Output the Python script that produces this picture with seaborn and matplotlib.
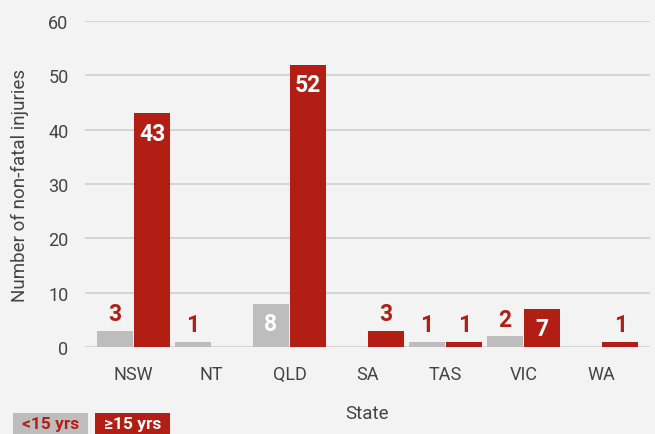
import matplotlib.pyplot as plt
import pandas as pd
import seaborn as sns
from matplotlib.patches import Rectangle

states = ["NSW", "NT", "QLD", "SA", "TAS", "VIC", "WA"]
under_15 = [3, 1, 8, 0, 1, 2, 0]
over_15 = [43, 0, 52, 3, 1, 7, 1]
groups = ["<15 yrs", "≥15 yrs"]

RED = "#B21E14"
GREY = "#BDBDBD"
BG = "#F3F3F3"
TXT = "#444444"

df = pd.DataFrame(
    {
        "State": states * 2,
        "Group": [groups[0]] * len(states) + [groups[1]] * len(states),
        "Value": under_15 + over_15,
    }
)

sns.set_theme(style="whitegrid")
plt.rcParams["font.family"] = ["Roboto", "DejaVu Sans"]

fig = plt.figure(figsize=(6.55, 4.35), dpi=100, facecolor=BG)
ax = fig.add_axes([0.13, 0.2, 0.862, 0.749], facecolor=BG)

sns.barplot(
    data=df,
    x="State",
    y="Value",
    hue="Group",
    hue_order=groups,
    palette=[GREY, RED],
    width=0.96,
    gap=0.04,
    saturation=1,
    linewidth=0,
    legend=False,
    ax=ax,
)

# value labels: white inside tall bars, red above short ones
for container, vals in zip(ax.containers, [under_15, over_15]):
    for bar, v in zip(container, vals):
        if v == 0:
            continue
        cx = bar.get_x() + bar.get_width() / 2
        if v >= 7:
            ax.annotate(str(v), (cx, v), xytext=(0, -6), textcoords="offset points",
                        ha="center", va="top", color="white", fontsize=16.5, fontweight="bold")
        else:
            ax.annotate(str(v), (cx, v), xytext=(0, 4), textcoords="offset points",
                        ha="center", va="bottom", color=RED, fontsize=16.5, fontweight="bold")

ax.set_ylim(0, 60)
ax.set_xlim(-0.62, 6.62)
ax.set_yticks(range(0, 61, 10))
ax.grid(axis="y", color="#CFCFCF", linewidth=1.2)
ax.grid(axis="x", visible=False)
for s in ax.spines.values():
    s.set_visible(False)
ax.tick_params(axis="y", length=0, pad=12, labelsize=13, labelcolor=TXT)
ax.tick_params(axis="x", length=0, pad=13, labelsize=13, labelcolor=TXT)
ax.set_xlabel("State", fontsize=13.5, color=TXT, labelpad=15)
ax.set_ylabel("Number of non-fatal injuries", fontsize=13.5, color=TXT, labelpad=14)

# legend boxes at bottom left (figure pixel coords)
W, H = 655, 435
for (x0, x1), label, fc, tc in [((13, 88), groups[0], GREY, RED), ((95, 170), groups[1], RED, "white")]:
    fig.patches.append(Rectangle((x0 / W, 0), (x1 - x0) / W, 21 / H, transform=fig.transFigure,
                                 facecolor=fc, edgecolor="none"))
    fig.text((x0 + x1) / 2 / W, 10 / H, label, ha="center", va="center",
             fontsize=12.5, fontweight="bold", color=tc)

fig.savefig("out.png", dpi=100, facecolor=BG)
